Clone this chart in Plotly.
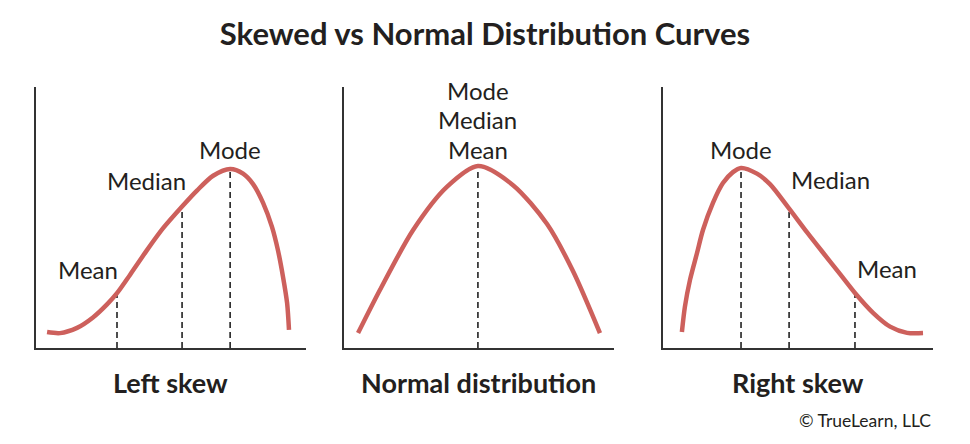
"""Skewed vs normal distribution curves, three panels."""

import plotly.graph_objects as go

# curve points (x in 0-10, density in 0-1)
left_x = [0.41, 0.89, 1.52, 2.11, 2.63, 3.00, 3.48, 4.11, 4.70, 5.41, 5.96, 6.56, 7.19,
          7.67, 8.04, 8.41, 8.74, 8.96, 9.15, 9.30, 9.37]
left_y = [0.061, 0.057, 0.077, 0.117, 0.167, 0.210, 0.280, 0.375, 0.458, 0.542, 0.603, 0.660,
          0.686, 0.668, 0.628, 0.556, 0.464, 0.375, 0.272, 0.172, 0.069]

normal_x = [0.52, 1.33, 2.56, 3.81, 4.96, 6.26, 7.52, 8.48, 9.48]
normal_y = [0.057, 0.222, 0.452, 0.617, 0.697, 0.624, 0.475, 0.295, 0.057]

right_x = [0.70, 0.81, 1.00, 1.26, 1.48, 1.85, 2.22, 2.59, 2.89, 3.48, 3.96, 4.63, 5.33,
           5.93, 6.56, 7.11, 7.78, 8.41, 9.04, 9.63]
right_y = [0.061, 0.157, 0.261, 0.364, 0.452, 0.556, 0.632, 0.674, 0.690, 0.668, 0.628, 0.540,
           0.444, 0.365, 0.283, 0.211, 0.135, 0.082, 0.058, 0.057]

# marker lines: (x, curve height)
left_marks = [(3.00, 0.210), (5.41, 0.542), (7.19, 0.686)]
normal_marks = [(4.96, 0.697)]
right_marks = [(2.89, 0.690), (4.67, 0.534), (7.11, 0.211)]

panel_titles = ["Left skew", "Normal distribution", "Right skew"]

CURVE = "#cd605c"
INK = "#231f20"
FONT = "Lato"

# the page body adds an 8px margin, so the figure sits at (8, 8)
W, H = 962, 436


def fx(px):
    return (px - 8) / W


def fy(py):
    return (444 - py) / H


x_domains = [(36, 306), (344, 614), (663, 933)]
y_domain = [fy(348), fy(87)]

fig = go.Figure()

panels = [
    (left_x, left_y, left_marks),
    (normal_x, normal_y, normal_marks),
    (right_x, right_y, right_marks),
]

for i, (xs, ys, marks) in enumerate(panels):
    n = "" if i == 0 else str(i + 1)
    xa, ya = "x" + n, "y" + n
    for mx, my in marks:
        fig.add_trace(
            go.Scatter(
                x=[mx, mx], y=[0, my], mode="lines",
                line=dict(color="#222222", width=1.6, dash="6px,4px"),
                xaxis=xa, yaxis=ya, hoverinfo="skip", showlegend=False,
            )
        )
    fig.add_trace(
        go.Scatter(
            x=xs, y=ys, mode="lines",
            line=dict(color=CURVE, width=4.5, shape="spline", smoothing=0.8),
            xaxis=xa, yaxis=ya, showlegend=False,
        )
    )
    axis = dict(range=[0, 10], domain=[fx(x_domains[i][0]), fx(x_domains[i][1])],
                showline=True, linecolor="#333333", linewidth=2, showgrid=False,
                zeroline=False, showticklabels=False, ticks="", fixedrange=True,
                anchor=ya)
    yaxis = dict(range=[0, 1], domain=y_domain, showline=True, linecolor="#333333",
                 linewidth=2, showgrid=False, zeroline=False, showticklabels=False,
                 ticks="", fixedrange=True, anchor=xa)
    fig.update_layout({"xaxis" + n: axis, "yaxis" + n: yaxis})

label_font = dict(family=FONT, size=24, color=INK)


def label(text, x, y, ax):
    fig.add_annotation(text=text, x=x, y=y, xref="x" + ax, yref="y" + ax,
                       showarrow=False, font=label_font, xanchor="center", yanchor="middle")


label("Mode", 7.19, 0.759, "")
label("Median", 4.11, 0.640, "")
label("Mean", 1.93, 0.299, "")
label("Mode", 4.96, 0.985, "2")
label("Median", 4.96, 0.874, "2")
label("Mean", 4.96, 0.759, "2")
label("Mode", 2.89, 0.759, "3")
label("Median", 6.19, 0.644, "3")
label("Mean", 8.30, 0.303, "3")

for text, cx in zip(panel_titles, [170, 478, 798]):
    fig.add_annotation(text="<b>%s</b>" % text, x=fx(cx), y=fy(382), xref="paper", yref="paper",
                       showarrow=False, font=dict(family=FONT, size=27, color=INK),
                       xanchor="center", yanchor="middle")

fig.add_annotation(text="© TrueLearn, LLC", x=fx(933), y=fy(420), xref="paper", yref="paper",
                   showarrow=False, font=dict(family=FONT, size=17.5, color=INK),
                   xanchor="right", yanchor="middle")

# light grey page edge on the right
fig.add_shape(type="rect", xref="paper", yref="paper", x0=fx(966), x1=1, y0=0, y1=1,
              fillcolor="#f3f3f3", line_width=0, layer="below")

fig.update_layout(
    title=dict(text="<b>Skewed vs Normal Distribution Curves</b>", x=fx(485), xanchor="center",
               y=fy(34), yanchor="middle", font=dict(family=FONT, size=31, color=INK)),
    width=W, height=H, margin=dict(l=0, r=0, t=0, b=0),
    paper_bgcolor="white", plot_bgcolor="rgba(0,0,0,0)",
)

fig.write_html("out.html")
